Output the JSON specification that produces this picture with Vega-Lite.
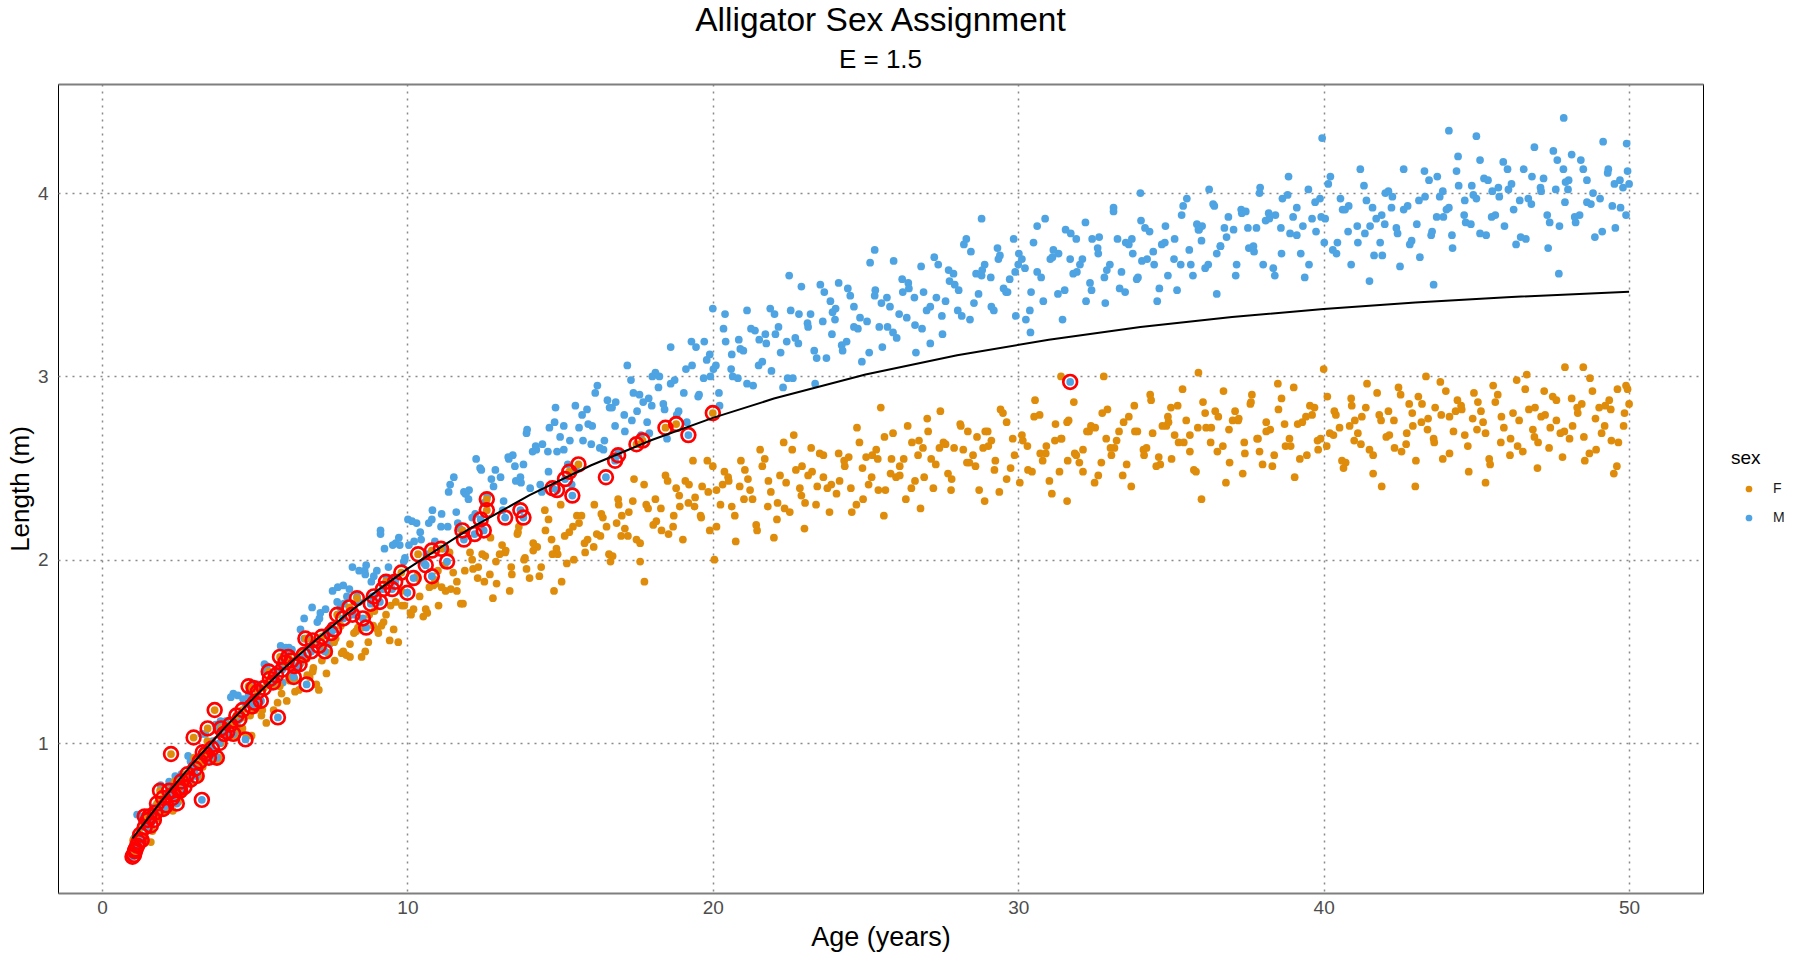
{
"$schema":"https://vega.github.io/schema/vega-lite/v6.json",
"width":1645,"height":809,
"autosize":{"type":"none"},
"padding":{"left":58,"top":84,"right":97,"bottom":67},
"background":"white",
"title":{"text":"Alligator Sex Assignment","subtitle":"E = 1.5","fontSize":33.5,"subtitleFontSize":26,"font":"Liberation Sans","subtitleFont":"Liberation Sans","fontWeight":"normal","subtitleFontWeight":"normal","color":"black","subtitleColor":"black","anchor":"middle","frame":"group","offset":10,"subtitlePadding":9},
"config":{
"view":{"stroke":"black","strokeWidth":1},
"axis":{"grid":true,"gridColor":"#8a8a8a","gridDash":[2,5],"gridWidth":1.5,"ticks":false,"domain":false,"labelFont":"Liberation Sans","labelFontSize":19,"labelColor":"#4d4d4d","labelPadding":10,"titleFont":"Liberation Sans","titleFontSize":27,"titleFontWeight":"normal","titleColor":"black"}
},
"resolve":{"axis":{"x":"independent","y":"independent"}},
"datasets":{
"pts":[
{"a":1.05,"l":0.48,"s":"M"},{"a":1.3,"l":0.58,"s":"M"},{"a":1.55,"l":0.53,"s":"M"},{"a":1.8,"l":0.66,"s":"M"},{"a":1.15,"l":0.61,"s":"M"},{"a":1.45,"l":0.55,"s":"M"},{"a":1.7,"l":0.65,"s":"M"},{"a":1.9,"l":0.63,"s":"M"},
{"a":2.1,"l":0.71,"s":"M"},{"a":2.4,"l":0.82,"s":"M"},{"a":2.65,"l":0.73,"s":"M"},{"a":2.9,"l":0.9,"s":"M"},{"a":2.2,"l":0.79,"s":"M"},{"a":2.35,"l":0.75,"s":"M"},{"a":2.6,"l":0.83,"s":"M"},{"a":2.85,"l":0.82,"s":"M"},
{"a":3.0,"l":0.88,"s":"M"},{"a":3.25,"l":1.05,"s":"M"},{"a":3.5,"l":0.95,"s":"M"},{"a":3.75,"l":1.08,"s":"M"},{"a":3.12,"l":0.82,"s":"M"},{"a":3.38,"l":1.05,"s":"M"},{"a":3.62,"l":1.01,"s":"M"},{"a":3.88,"l":1.12,"s":"M"},
{"a":4.05,"l":1.12,"s":"M"},{"a":4.3,"l":1.27,"s":"M"},{"a":4.55,"l":1.16,"s":"M"},{"a":4.8,"l":1.26,"s":"M"},{"a":4.15,"l":1.07,"s":"M"},{"a":4.45,"l":1.26,"s":"M"},{"a":4.7,"l":1.21,"s":"M"},{"a":4.9,"l":1.31,"s":"M"},
{"a":5.1,"l":1.32,"s":"M"},{"a":5.4,"l":1.42,"s":"M"},{"a":5.65,"l":1.36,"s":"M"},{"a":5.9,"l":1.44,"s":"M"},{"a":5.2,"l":1.23,"s":"M"},{"a":5.35,"l":1.4,"s":"M"},{"a":5.6,"l":1.35,"s":"M"},{"a":5.85,"l":1.53,"s":"M"},
{"a":6.0,"l":1.49,"s":"M"},{"a":6.25,"l":1.37,"s":"M"},{"a":6.5,"l":1.62,"s":"M"},{"a":6.75,"l":1.57,"s":"M"},{"a":6.12,"l":1.52,"s":"M"},{"a":6.38,"l":1.41,"s":"M"},{"a":6.62,"l":1.57,"s":"M"},{"a":6.88,"l":1.74,"s":"M"},
{"a":7.05,"l":1.66,"s":"M"},{"a":7.3,"l":1.59,"s":"M"},{"a":7.55,"l":1.83,"s":"M"},{"a":7.8,"l":1.74,"s":"M"},{"a":7.15,"l":1.71,"s":"M"},{"a":7.45,"l":1.54,"s":"M"},{"a":7.7,"l":1.77,"s":"M"},{"a":7.9,"l":1.86,"s":"M"},
{"a":8.1,"l":1.84,"s":"M"},{"a":8.4,"l":1.77,"s":"M"},{"a":8.65,"l":1.97,"s":"M"},{"a":8.9,"l":1.91,"s":"M"},{"a":8.2,"l":1.96,"s":"M"},{"a":8.35,"l":1.8,"s":"M"},{"a":8.6,"l":1.94,"s":"M"},{"a":8.85,"l":1.8,"s":"M"},
{"a":9.0,"l":1.94,"s":"M"},{"a":9.25,"l":2.06,"s":"M"},{"a":9.5,"l":1.9,"s":"M"},{"a":9.75,"l":2.08,"s":"M"},{"a":9.12,"l":2.16,"s":"M"},{"a":9.38,"l":1.96,"s":"M"},{"a":9.62,"l":2.09,"s":"M"},{"a":9.88,"l":1.99,"s":"M"},
{"a":10.05,"l":2.08,"s":"M"},{"a":10.3,"l":2.2,"s":"M"},{"a":10.55,"l":1.98,"s":"M"},{"a":10.8,"l":2.22,"s":"M"},{"a":10.15,"l":2.21,"s":"M"},{"a":10.45,"l":2.11,"s":"M"},{"a":10.7,"l":2.2,"s":"M"},{"a":10.9,"l":2.1,"s":"M"},
{"a":11.1,"l":2.18,"s":"M"},{"a":11.4,"l":2.41,"s":"M"},{"a":11.65,"l":2.2,"s":"M"},{"a":11.9,"l":2.36,"s":"M"},{"a":11.2,"l":2.06,"s":"M"},{"a":11.35,"l":2.37,"s":"M"},{"a":11.6,"l":2.26,"s":"M"},{"a":11.85,"l":2.37,"s":"M"},
{"a":12.0,"l":2.33,"s":"M"},{"a":12.25,"l":2.55,"s":"M"},{"a":12.5,"l":2.31,"s":"M"},{"a":12.75,"l":2.44,"s":"M"},{"a":12.12,"l":2.23,"s":"M"},{"a":12.38,"l":2.5,"s":"M"},{"a":12.62,"l":2.35,"s":"M"},{"a":12.88,"l":2.49,"s":"M"},
{"a":13.05,"l":2.45,"s":"M"},{"a":13.3,"l":2.56,"s":"M"},{"a":13.55,"l":2.43,"s":"M"},{"a":13.8,"l":2.52,"s":"M"},{"a":13.15,"l":2.32,"s":"M"},{"a":13.45,"l":2.57,"s":"M"},{"a":13.7,"l":2.45,"s":"M"},{"a":13.9,"l":2.69,"s":"M"},
{"a":14.1,"l":2.59,"s":"M"},{"a":14.4,"l":2.37,"s":"M"},{"a":14.65,"l":2.72,"s":"M"},{"a":14.9,"l":2.59,"s":"M"},{"a":14.2,"l":2.62,"s":"M"},{"a":14.35,"l":2.41,"s":"M"},{"a":14.6,"l":2.59,"s":"M"},{"a":14.85,"l":2.83,"s":"M"},
{"a":15.0,"l":2.67,"s":"M"},{"a":15.25,"l":2.52,"s":"M"},{"a":15.5,"l":2.84,"s":"M"},{"a":15.75,"l":2.65,"s":"M"},{"a":15.12,"l":2.73,"s":"M"},{"a":15.38,"l":2.41,"s":"M"},{"a":15.62,"l":2.72,"s":"M"},{"a":15.88,"l":2.82,"s":"M"},
{"a":16.05,"l":2.73,"s":"M"},{"a":16.3,"l":2.61,"s":"M"},{"a":16.55,"l":2.87,"s":"M"},{"a":16.8,"l":2.73,"s":"M"},{"a":16.15,"l":2.91,"s":"M"},{"a":16.45,"l":2.65,"s":"M"},{"a":16.7,"l":2.83,"s":"M"},{"a":16.9,"l":2.59,"s":"M"},
{"a":17.1,"l":2.79,"s":"M"},{"a":17.4,"l":2.91,"s":"M"},{"a":17.65,"l":2.68,"s":"M"},{"a":17.9,"l":2.88,"s":"M"},{"a":17.2,"l":3.06,"s":"M"},{"a":17.35,"l":2.76,"s":"M"},{"a":17.6,"l":2.9,"s":"M"},{"a":17.85,"l":2.75,"s":"M"},
{"a":18.0,"l":2.84,"s":"M"},{"a":18.25,"l":3.0,"s":"M"},{"a":18.5,"l":2.66,"s":"M"},{"a":18.75,"l":2.98,"s":"M"},{"a":18.12,"l":3.02,"s":"M"},{"a":18.38,"l":2.85,"s":"M"},{"a":18.62,"l":2.96,"s":"M"},{"a":18.88,"l":2.81,"s":"M"},
{"a":19.05,"l":2.91,"s":"M"},{"a":19.3,"l":3.19,"s":"M"},{"a":19.55,"l":2.9,"s":"M"},{"a":19.8,"l":3.09,"s":"M"},{"a":19.15,"l":2.75,"s":"M"},{"a":19.45,"l":3.16,"s":"M"},{"a":19.7,"l":2.99,"s":"M"},{"a":19.9,"l":3.12,"s":"M"},
{"a":20.1,"l":3.06,"s":"M"},{"a":20.4,"l":3.34,"s":"M"},{"a":20.65,"l":3.0,"s":"M"},{"a":20.9,"l":3.15,"s":"M"},{"a":20.2,"l":2.91,"s":"M"},{"a":20.35,"l":3.26,"s":"M"},{"a":20.6,"l":3.04,"s":"M"},{"a":20.85,"l":3.2,"s":"M"},
{"a":21.0,"l":3.14,"s":"M"},{"a":21.25,"l":3.26,"s":"M"},{"a":21.5,"l":3.06,"s":"M"},{"a":21.75,"l":3.18,"s":"M"},{"a":21.12,"l":2.96,"s":"M"},{"a":21.38,"l":3.25,"s":"M"},{"a":21.62,"l":3.08,"s":"M"},{"a":21.88,"l":3.37,"s":"M"},
{"a":22.05,"l":3.23,"s":"M"},{"a":22.3,"l":2.94,"s":"M"},{"a":22.55,"l":3.36,"s":"M"},{"a":22.8,"l":3.18,"s":"M"},{"a":22.15,"l":3.27,"s":"M"},{"a":22.45,"l":2.99,"s":"M"},{"a":22.7,"l":3.21,"s":"M"},{"a":22.9,"l":3.49,"s":"M"},
{"a":23.1,"l":3.29,"s":"M"},{"a":23.4,"l":3.1,"s":"M"},{"a":23.65,"l":3.46,"s":"M"},{"a":23.9,"l":3.23,"s":"M"},{"a":23.2,"l":3.34,"s":"M"},{"a":23.35,"l":2.96,"s":"M"},{"a":23.6,"l":3.3,"s":"M"},{"a":23.85,"l":3.41,"s":"M"},
{"a":24.0,"l":3.31,"s":"M"},{"a":24.25,"l":3.14,"s":"M"},{"a":24.5,"l":3.44,"s":"M"},{"a":24.75,"l":3.26,"s":"M"},{"a":24.12,"l":3.51,"s":"M"},{"a":24.38,"l":3.19,"s":"M"},{"a":24.62,"l":3.38,"s":"M"},{"a":24.88,"l":3.08,"s":"M"},
{"a":25.05,"l":3.3,"s":"M"},{"a":25.3,"l":3.44,"s":"M"},{"a":25.55,"l":3.16,"s":"M"},{"a":25.8,"l":3.38,"s":"M"},{"a":25.15,"l":3.62,"s":"M"},{"a":25.45,"l":3.27,"s":"M"},{"a":25.7,"l":3.43,"s":"M"},{"a":25.9,"l":3.24,"s":"M"},
{"a":26.1,"l":3.34,"s":"M"},{"a":26.4,"l":3.51,"s":"M"},{"a":26.65,"l":3.13,"s":"M"},{"a":26.9,"l":3.46,"s":"M"},{"a":26.2,"l":3.53,"s":"M"},{"a":26.35,"l":3.32,"s":"M"},{"a":26.6,"l":3.43,"s":"M"},{"a":26.85,"l":3.26,"s":"M"},
{"a":27.0,"l":3.36,"s":"M"},{"a":27.25,"l":3.65,"s":"M"},{"a":27.5,"l":3.33,"s":"M"},{"a":27.75,"l":3.52,"s":"M"},{"a":27.12,"l":3.18,"s":"M"},{"a":27.38,"l":3.61,"s":"M"},{"a":27.62,"l":3.41,"s":"M"},{"a":27.88,"l":3.56,"s":"M"},
{"a":28.05,"l":3.47,"s":"M"},{"a":28.3,"l":3.75,"s":"M"},{"a":28.55,"l":3.4,"s":"M"},{"a":28.8,"l":3.55,"s":"M"},{"a":28.15,"l":3.33,"s":"M"},{"a":28.45,"l":3.68,"s":"M"},{"a":28.7,"l":3.45,"s":"M"},{"a":28.9,"l":3.61,"s":"M"},
{"a":29.1,"l":3.54,"s":"M"},{"a":29.4,"l":3.66,"s":"M"},{"a":29.65,"l":3.46,"s":"M"},{"a":29.9,"l":3.57,"s":"M"},{"a":29.2,"l":3.36,"s":"M"},{"a":29.35,"l":3.64,"s":"M"},{"a":29.6,"l":3.46,"s":"M"},{"a":29.85,"l":3.75,"s":"M"},
{"a":30.0,"l":3.61,"s":"M"},{"a":30.25,"l":3.31,"s":"M"},{"a":30.5,"l":3.73,"s":"M"},{"a":30.75,"l":3.54,"s":"M"},{"a":30.12,"l":3.64,"s":"M"},{"a":30.38,"l":3.36,"s":"M"},{"a":30.62,"l":3.57,"s":"M"},{"a":30.88,"l":3.86,"s":"M"},
{"a":31.05,"l":3.64,"s":"M"},{"a":31.3,"l":3.45,"s":"M"},{"a":31.55,"l":3.8,"s":"M"},{"a":31.8,"l":3.56,"s":"M"},{"a":31.15,"l":3.69,"s":"M"},{"a":31.45,"l":3.31,"s":"M"},{"a":31.7,"l":3.64,"s":"M"},{"a":31.9,"l":3.75,"s":"M"},
{"a":32.1,"l":3.64,"s":"M"},{"a":32.4,"l":3.47,"s":"M"},{"a":32.65,"l":3.76,"s":"M"},{"a":32.9,"l":3.58,"s":"M"},{"a":32.2,"l":3.84,"s":"M"},{"a":32.35,"l":3.51,"s":"M"},{"a":32.6,"l":3.7,"s":"M"},{"a":32.85,"l":3.4,"s":"M"},
{"a":33.0,"l":3.61,"s":"M"},{"a":33.25,"l":3.75,"s":"M"},{"a":33.5,"l":3.46,"s":"M"},{"a":33.75,"l":3.67,"s":"M"},{"a":33.12,"l":3.92,"s":"M"},{"a":33.38,"l":3.57,"s":"M"},{"a":33.62,"l":3.72,"s":"M"},{"a":33.88,"l":3.53,"s":"M"},
{"a":34.05,"l":3.63,"s":"M"},{"a":34.3,"l":3.79,"s":"M"},{"a":34.55,"l":3.41,"s":"M"},{"a":34.8,"l":3.73,"s":"M"},{"a":34.15,"l":3.81,"s":"M"},{"a":34.45,"l":3.61,"s":"M"},{"a":34.7,"l":3.72,"s":"M"},{"a":34.9,"l":3.55,"s":"M"},
{"a":35.1,"l":3.64,"s":"M"},{"a":35.4,"l":3.93,"s":"M"},{"a":35.65,"l":3.61,"s":"M"},{"a":35.9,"l":3.8,"s":"M"},{"a":35.2,"l":3.47,"s":"M"},{"a":35.35,"l":3.88,"s":"M"},{"a":35.6,"l":3.69,"s":"M"},{"a":35.85,"l":3.83,"s":"M"},
{"a":36.0,"l":3.74,"s":"M"},{"a":36.25,"l":4.02,"s":"M"},{"a":36.5,"l":3.67,"s":"M"},{"a":36.75,"l":3.81,"s":"M"},{"a":36.12,"l":3.59,"s":"M"},{"a":36.38,"l":3.94,"s":"M"},{"a":36.62,"l":3.71,"s":"M"},{"a":36.88,"l":3.87,"s":"M"},
{"a":37.05,"l":3.8,"s":"M"},{"a":37.3,"l":3.91,"s":"M"},{"a":37.55,"l":3.7,"s":"M"},{"a":37.8,"l":3.81,"s":"M"},{"a":37.15,"l":3.61,"s":"M"},{"a":37.45,"l":3.9,"s":"M"},{"a":37.7,"l":3.71,"s":"M"},{"a":37.9,"l":4.0,"s":"M"},
{"a":38.1,"l":3.85,"s":"M"},{"a":38.4,"l":3.55,"s":"M"},{"a":38.65,"l":3.97,"s":"M"},{"a":38.9,"l":3.78,"s":"M"},{"a":38.2,"l":3.89,"s":"M"},{"a":38.35,"l":3.59,"s":"M"},{"a":38.6,"l":3.81,"s":"M"},{"a":38.85,"l":4.09,"s":"M"},
{"a":39.0,"l":3.87,"s":"M"},{"a":39.25,"l":3.67,"s":"M"},{"a":39.5,"l":4.02,"s":"M"},{"a":39.75,"l":3.79,"s":"M"},{"a":39.12,"l":3.92,"s":"M"},{"a":39.38,"l":3.54,"s":"M"},{"a":39.62,"l":3.86,"s":"M"},{"a":39.88,"l":3.97,"s":"M"},
{"a":40.05,"l":3.86,"s":"M"},{"a":40.3,"l":3.69,"s":"M"},{"a":40.55,"l":3.97,"s":"M"},{"a":40.8,"l":3.79,"s":"M"},{"a":40.15,"l":4.05,"s":"M"},{"a":40.45,"l":3.73,"s":"M"},{"a":40.7,"l":3.91,"s":"M"},{"a":40.9,"l":3.61,"s":"M"},
{"a":41.1,"l":3.82,"s":"M"},{"a":41.4,"l":3.96,"s":"M"},{"a":41.65,"l":3.66,"s":"M"},{"a":41.9,"l":3.88,"s":"M"},{"a":41.2,"l":4.13,"s":"M"},{"a":41.35,"l":3.78,"s":"M"},{"a":41.6,"l":3.92,"s":"M"},{"a":41.85,"l":3.73,"s":"M"},
{"a":42.0,"l":3.83,"s":"M"},{"a":42.25,"l":3.98,"s":"M"},{"a":42.5,"l":3.6,"s":"M"},{"a":42.75,"l":3.93,"s":"M"},{"a":42.12,"l":4.01,"s":"M"},{"a":42.38,"l":3.81,"s":"M"},{"a":42.62,"l":3.91,"s":"M"},{"a":42.88,"l":3.74,"s":"M"},
{"a":43.05,"l":3.83,"s":"M"},{"a":43.3,"l":4.12,"s":"M"},{"a":43.55,"l":3.79,"s":"M"},{"a":43.8,"l":3.98,"s":"M"},{"a":43.15,"l":3.65,"s":"M"},{"a":43.45,"l":4.07,"s":"M"},{"a":43.7,"l":3.87,"s":"M"},{"a":43.9,"l":4.01,"s":"M"},
{"a":44.1,"l":3.92,"s":"M"},{"a":44.4,"l":4.2,"s":"M"},{"a":44.65,"l":3.84,"s":"M"},{"a":44.9,"l":3.99,"s":"M"},{"a":44.2,"l":3.77,"s":"M"},{"a":44.35,"l":4.12,"s":"M"},{"a":44.6,"l":3.88,"s":"M"},{"a":44.85,"l":4.04,"s":"M"},
{"a":45.0,"l":3.97,"s":"M"},{"a":45.25,"l":4.08,"s":"M"},{"a":45.5,"l":3.87,"s":"M"},{"a":45.75,"l":3.98,"s":"M"},{"a":45.12,"l":3.78,"s":"M"},{"a":45.38,"l":4.07,"s":"M"},{"a":45.62,"l":3.88,"s":"M"},{"a":45.88,"l":4.17,"s":"M"},
{"a":46.05,"l":4.02,"s":"M"},{"a":46.3,"l":3.72,"s":"M"},{"a":46.55,"l":4.13,"s":"M"},{"a":46.8,"l":3.94,"s":"M"},{"a":46.15,"l":4.05,"s":"M"},{"a":46.45,"l":3.76,"s":"M"},{"a":46.7,"l":3.97,"s":"M"},{"a":46.9,"l":4.25,"s":"M"},
{"a":47.1,"l":4.03,"s":"M"},{"a":47.4,"l":3.84,"s":"M"},{"a":47.65,"l":4.18,"s":"M"},{"a":47.9,"l":3.95,"s":"M"},{"a":47.2,"l":4.08,"s":"M"},{"a":47.35,"l":3.7,"s":"M"},{"a":47.6,"l":4.02,"s":"M"},{"a":47.85,"l":4.13,"s":"M"},
{"a":48.0,"l":4.02,"s":"M"},{"a":48.25,"l":3.84,"s":"M"},{"a":48.5,"l":4.13,"s":"M"},{"a":48.75,"l":3.94,"s":"M"},{"a":48.12,"l":4.21,"s":"M"},{"a":48.38,"l":3.88,"s":"M"},{"a":48.62,"l":4.07,"s":"M"},{"a":48.88,"l":3.76,"s":"M"},
{"a":49.05,"l":3.97,"s":"M"},{"a":49.3,"l":4.11,"s":"M"},{"a":49.55,"l":3.81,"s":"M"},{"a":49.8,"l":4.03,"s":"M"},{"a":49.15,"l":4.28,"s":"M"},{"a":49.45,"l":3.93,"s":"M"},{"a":49.7,"l":4.07,"s":"M"},{"a":49.9,"l":3.88,"s":"M"},
{"a":47.86,"l":4.41,"s":"M"},{"a":39.95,"l":4.3,"s":"M"},{"a":44.1,"l":4.34,"s":"M"},{"a":45.0,"l":4.31,"s":"M"},{"a":47.7,"l":3.56,"s":"M"},{"a":30.4,"l":3.24,"s":"M"},{"a":25.3,"l":3.69,"s":"M"},{"a":49.95,"l":4.12,"s":"M"},{"a":50.0,"l":4.05,"s":"M"},{"a":36.5,"l":3.45,"s":"M"},{"a":41.5,"l":3.52,"s":"M"},{"a":43.6,"l":3.5,"s":"M"},{"a":28.8,"l":3.86,"s":"M"},{"a":34.0,"l":4.0,"s":"M"},{"a":22.5,"l":3.55,"s":"M"},{"a":20.0,"l":3.37,"s":"M"},
{"a":1.12,"l":0.43,"s":"M"},{"a":1.32,"l":0.6,"s":"M"},{"a":1.52,"l":0.61,"s":"M"},{"a":1.72,"l":0.6,"s":"M"},{"a":1.92,"l":0.77,"s":"M"},
{"a":2.02,"l":0.64,"s":"M"},{"a":2.22,"l":0.77,"s":"M"},{"a":2.42,"l":0.81,"s":"M"},{"a":2.62,"l":0.78,"s":"M"},{"a":2.82,"l":0.93,"s":"M"},
{"a":3.12,"l":0.91,"s":"M"},{"a":3.32,"l":0.96,"s":"M"},{"a":3.52,"l":0.91,"s":"M"},{"a":3.72,"l":1.1,"s":"M"},{"a":3.92,"l":1.1,"s":"M"},
{"a":4.02,"l":1.06,"s":"M"},{"a":4.22,"l":1.25,"s":"M"},{"a":4.42,"l":1.1,"s":"M"},{"a":4.62,"l":1.24,"s":"M"},{"a":4.82,"l":1.28,"s":"M"},
{"a":5.12,"l":1.24,"s":"M"},{"a":5.32,"l":1.43,"s":"M"},{"a":5.52,"l":1.35,"s":"M"},{"a":5.72,"l":1.4,"s":"M"},{"a":5.92,"l":1.33,"s":"M"},
{"a":6.02,"l":1.52,"s":"M"},{"a":6.22,"l":1.51,"s":"M"},{"a":6.42,"l":1.47,"s":"M"},{"a":6.62,"l":1.68,"s":"M"},{"a":6.82,"l":1.51,"s":"M"},
{"a":7.12,"l":1.68,"s":"M"},{"a":7.32,"l":1.73,"s":"M"},{"a":7.52,"l":1.64,"s":"M"},{"a":7.72,"l":1.85,"s":"M"},{"a":7.92,"l":1.76,"s":"M"},
{"a":8.02,"l":1.8,"s":"M"},{"a":8.22,"l":1.72,"s":"M"},{"a":8.42,"l":1.94,"s":"M"},{"a":8.62,"l":1.92,"s":"M"},{"a":8.82,"l":1.88,"s":"M"},
{"a":9.12,"l":2.14,"s":"M"},{"a":9.32,"l":1.9,"s":"M"},{"a":9.52,"l":2.08,"s":"M"},{"a":9.72,"l":2.12,"s":"M"},{"a":9.92,"l":2.01,"s":"M"},
{"a":10.02,"l":2.22,"s":"M"},{"a":10.22,"l":2.1,"s":"M"},{"a":10.42,"l":2.15,"s":"M"},{"a":10.62,"l":2.03,"s":"M"},{"a":10.82,"l":2.27,"s":"M"},
{"a":11.12,"l":2.25,"s":"M"},{"a":11.32,"l":2.18,"s":"M"},{"a":11.52,"l":2.45,"s":"M"},{"a":11.72,"l":2.17,"s":"M"},{"a":11.92,"l":2.36,"s":"M"},
{"a":12.02,"l":2.38,"s":"M"},{"a":12.22,"l":2.25,"s":"M"},{"a":12.42,"l":2.49,"s":"M"},{"a":12.62,"l":2.35,"s":"M"},{"a":12.82,"l":2.4,"s":"M"},
{"a":13.12,"l":2.27,"s":"M"},{"a":13.32,"l":2.55,"s":"M"},{"a":13.52,"l":2.51,"s":"M"},{"a":13.72,"l":2.42,"s":"M"},{"a":13.92,"l":2.71,"s":"M"},
{"a":14.02,"l":2.39,"s":"M"},{"a":14.22,"l":2.6,"s":"M"},{"a":14.42,"l":2.63,"s":"M"},{"a":14.62,"l":2.48,"s":"M"},{"a":14.82,"l":2.75,"s":"M"},
{"a":15.12,"l":2.6,"s":"M"},{"a":15.32,"l":2.65,"s":"M"},{"a":15.52,"l":2.49,"s":"M"},{"a":15.72,"l":2.79,"s":"M"},{"a":15.92,"l":2.74,"s":"M"},
{"a":16.02,"l":2.63,"s":"M"},{"a":16.22,"l":2.95,"s":"M"},{"a":16.42,"l":2.6,"s":"M"},{"a":16.62,"l":2.83,"s":"M"},{"a":16.82,"l":2.86,"s":"M"},
{"a":17.12,"l":2.7,"s":"M"},{"a":17.32,"l":2.98,"s":"M"},{"a":17.52,"l":2.81,"s":"M"},{"a":17.72,"l":2.86,"s":"M"},{"a":17.92,"l":2.69,"s":"M"},
{"a":18.02,"l":3.0,"s":"M"},{"a":18.22,"l":2.94,"s":"M"},{"a":18.42,"l":2.82,"s":"M"},{"a":18.62,"l":3.16,"s":"M"},{"a":18.82,"l":2.79,"s":"M"},
{"a":19.12,"l":3.04,"s":"M"},{"a":19.32,"l":3.06,"s":"M"},{"a":19.52,"l":2.89,"s":"M"},{"a":19.72,"l":3.19,"s":"M"},{"a":19.92,"l":3.0,"s":"M"},
{"a":20.02,"l":3.04,"s":"M"},{"a":20.22,"l":2.84,"s":"M"},{"a":20.42,"l":3.19,"s":"M"},{"a":20.62,"l":3.12,"s":"M"},{"a":20.82,"l":2.99,"s":"M"},
{"a":21.12,"l":3.36,"s":"M"},{"a":21.32,"l":2.95,"s":"M"},{"a":21.52,"l":3.2,"s":"M"},{"a":21.72,"l":3.23,"s":"M"},{"a":21.92,"l":3.03,"s":"M"},
{"a":22.02,"l":3.34,"s":"M"},{"a":22.22,"l":3.13,"s":"M"},{"a":22.42,"l":3.19,"s":"M"},{"a":22.62,"l":2.99,"s":"M"},{"a":22.82,"l":3.34,"s":"M"},
{"a":23.12,"l":3.27,"s":"M"},{"a":23.32,"l":3.14,"s":"M"},{"a":23.52,"l":3.5,"s":"M"},{"a":23.72,"l":3.1,"s":"M"},{"a":23.92,"l":3.35,"s":"M"},
{"a":24.02,"l":3.37,"s":"M"},{"a":24.22,"l":3.17,"s":"M"},{"a":24.42,"l":3.48,"s":"M"},{"a":24.62,"l":3.27,"s":"M"},{"a":24.82,"l":3.32,"s":"M"},
{"a":25.12,"l":3.13,"s":"M"},{"a":25.32,"l":3.47,"s":"M"},{"a":25.52,"l":3.4,"s":"M"},{"a":25.72,"l":3.27,"s":"M"},{"a":25.92,"l":3.63,"s":"M"},
{"a":26.02,"l":3.21,"s":"M"},{"a":26.22,"l":3.46,"s":"M"},{"a":26.42,"l":3.48,"s":"M"},{"a":26.62,"l":3.28,"s":"M"},{"a":26.82,"l":3.6,"s":"M"},
{"a":27.12,"l":3.38,"s":"M"},{"a":27.32,"l":3.43,"s":"M"},{"a":27.52,"l":3.23,"s":"M"},{"a":27.72,"l":3.58,"s":"M"},{"a":27.92,"l":3.5,"s":"M"},
{"a":28.02,"l":3.36,"s":"M"},{"a":28.22,"l":3.72,"s":"M"},{"a":28.42,"l":3.31,"s":"M"},{"a":28.62,"l":3.56,"s":"M"},{"a":28.82,"l":3.58,"s":"M"},
{"a":29.12,"l":3.38,"s":"M"},{"a":29.32,"l":3.7,"s":"M"},{"a":29.52,"l":3.48,"s":"M"},{"a":29.72,"l":3.53,"s":"M"},{"a":29.92,"l":3.33,"s":"M"},
{"a":30.02,"l":3.67,"s":"M"},{"a":30.22,"l":3.59,"s":"M"},{"a":30.42,"l":3.46,"s":"M"},{"a":30.62,"l":3.82,"s":"M"},{"a":30.82,"l":3.41,"s":"M"},
{"a":31.12,"l":3.65,"s":"M"},{"a":31.32,"l":3.67,"s":"M"},{"a":31.52,"l":3.47,"s":"M"},{"a":31.72,"l":3.78,"s":"M"},{"a":31.92,"l":3.57,"s":"M"},
{"a":32.02,"l":3.61,"s":"M"},{"a":32.22,"l":3.41,"s":"M"},{"a":32.42,"l":3.75,"s":"M"},{"a":32.62,"l":3.67,"s":"M"},{"a":32.82,"l":3.54,"s":"M"},
{"a":33.12,"l":3.9,"s":"M"},{"a":33.32,"l":3.48,"s":"M"},{"a":33.52,"l":3.73,"s":"M"},{"a":33.72,"l":3.75,"s":"M"},{"a":33.92,"l":3.54,"s":"M"},
{"a":34.02,"l":3.85,"s":"M"},{"a":34.22,"l":3.64,"s":"M"},{"a":34.42,"l":3.68,"s":"M"},{"a":34.62,"l":3.48,"s":"M"},{"a":34.82,"l":3.82,"s":"M"},
{"a":35.12,"l":3.75,"s":"M"},{"a":35.32,"l":3.61,"s":"M"},{"a":35.52,"l":3.97,"s":"M"},{"a":35.72,"l":3.55,"s":"M"},{"a":35.92,"l":3.8,"s":"M"},
{"a":36.02,"l":3.82,"s":"M"},{"a":36.22,"l":3.61,"s":"M"},{"a":36.42,"l":3.93,"s":"M"},{"a":36.62,"l":3.71,"s":"M"},{"a":36.82,"l":3.76,"s":"M"},
{"a":37.12,"l":3.55,"s":"M"},{"a":37.32,"l":3.89,"s":"M"},{"a":37.52,"l":3.81,"s":"M"},{"a":37.72,"l":3.68,"s":"M"},{"a":37.92,"l":4.03,"s":"M"},
{"a":38.02,"l":3.61,"s":"M"},{"a":38.22,"l":3.86,"s":"M"},{"a":38.42,"l":3.88,"s":"M"},{"a":38.62,"l":3.67,"s":"M"},{"a":38.82,"l":3.99,"s":"M"},
{"a":39.12,"l":3.77,"s":"M"},{"a":39.32,"l":3.82,"s":"M"},{"a":39.52,"l":3.61,"s":"M"},{"a":39.72,"l":3.95,"s":"M"},{"a":39.92,"l":3.87,"s":"M"},
{"a":40.02,"l":3.73,"s":"M"},{"a":40.22,"l":4.09,"s":"M"},{"a":40.42,"l":3.67,"s":"M"},{"a":40.62,"l":3.91,"s":"M"},{"a":40.82,"l":3.93,"s":"M"},
{"a":41.12,"l":3.73,"s":"M"},{"a":41.32,"l":4.04,"s":"M"},{"a":41.52,"l":3.82,"s":"M"},{"a":41.72,"l":3.86,"s":"M"},{"a":41.92,"l":3.66,"s":"M"},
{"a":42.02,"l":4.0,"s":"M"},{"a":42.22,"l":3.92,"s":"M"},{"a":42.42,"l":3.78,"s":"M"},{"a":42.62,"l":4.13,"s":"M"},{"a":42.82,"l":3.72,"s":"M"},
{"a":43.12,"l":3.96,"s":"M"},{"a":43.32,"l":3.98,"s":"M"},{"a":43.52,"l":3.77,"s":"M"},{"a":43.72,"l":4.09,"s":"M"},{"a":43.92,"l":3.87,"s":"M"},
{"a":44.02,"l":3.91,"s":"M"},{"a":44.22,"l":3.7,"s":"M"},{"a":44.42,"l":4.04,"s":"M"},{"a":44.62,"l":3.96,"s":"M"},{"a":44.82,"l":3.83,"s":"M"},
{"a":45.12,"l":4.18,"s":"M"},{"a":45.32,"l":3.77,"s":"M"},{"a":45.52,"l":4.01,"s":"M"},{"a":45.72,"l":4.03,"s":"M"},{"a":45.92,"l":3.82,"s":"M"},
{"a":46.02,"l":4.13,"s":"M"},{"a":46.22,"l":3.91,"s":"M"},{"a":46.42,"l":3.96,"s":"M"},{"a":46.62,"l":3.75,"s":"M"},{"a":46.82,"l":4.09,"s":"M"},
{"a":47.12,"l":4.01,"s":"M"},{"a":47.32,"l":3.88,"s":"M"},{"a":47.52,"l":4.23,"s":"M"},{"a":47.72,"l":3.82,"s":"M"},{"a":47.92,"l":4.06,"s":"M"},
{"a":48.02,"l":4.07,"s":"M"},{"a":48.22,"l":3.87,"s":"M"},{"a":48.42,"l":4.18,"s":"M"},{"a":48.62,"l":3.95,"s":"M"},{"a":48.82,"l":4.0,"s":"M"},
{"a":49.12,"l":3.79,"s":"M"},{"a":49.32,"l":4.13,"s":"M"},{"a":49.52,"l":4.05,"s":"M"},{"a":49.72,"l":3.92,"s":"M"},{"a":49.92,"l":4.27,"s":"M"},
{"a":1.1,"l":0.43,"s":"F"},{"a":1.4,"l":0.54,"s":"F"},{"a":1.65,"l":0.52,"s":"F"},{"a":1.9,"l":0.69,"s":"F"},{"a":1.2,"l":0.47,"s":"F"},{"a":1.35,"l":0.55,"s":"F"},{"a":1.6,"l":0.46,"s":"F"},{"a":1.85,"l":0.63,"s":"F"},
{"a":2.0,"l":0.62,"s":"F"},{"a":2.25,"l":0.7,"s":"F"},{"a":2.5,"l":0.68,"s":"F"},{"a":2.75,"l":0.83,"s":"F"},{"a":2.12,"l":0.64,"s":"F"},{"a":2.38,"l":0.79,"s":"F"},{"a":2.62,"l":0.72,"s":"F"},{"a":2.88,"l":0.84,"s":"F"},
{"a":3.05,"l":0.9,"s":"F"},{"a":3.3,"l":0.87,"s":"F"},{"a":3.55,"l":0.96,"s":"F"},{"a":3.8,"l":0.9,"s":"F"},{"a":3.15,"l":0.87,"s":"F"},{"a":3.45,"l":1.01,"s":"F"},{"a":3.7,"l":0.92,"s":"F"},{"a":3.9,"l":1.0,"s":"F"},
{"a":4.1,"l":1.09,"s":"F"},{"a":4.4,"l":1.05,"s":"F"},{"a":4.65,"l":1.14,"s":"F"},{"a":4.9,"l":1.04,"s":"F"},{"a":4.2,"l":1.05,"s":"F"},{"a":4.35,"l":1.11,"s":"F"},{"a":4.6,"l":1.08,"s":"F"},{"a":4.85,"l":1.15,"s":"F"},
{"a":5.0,"l":1.21,"s":"F"},{"a":5.25,"l":1.18,"s":"F"},{"a":5.5,"l":1.33,"s":"F"},{"a":5.75,"l":1.22,"s":"F"},{"a":5.12,"l":1.21,"s":"F"},{"a":5.38,"l":1.11,"s":"F"},{"a":5.62,"l":1.32,"s":"F"},{"a":5.88,"l":1.27,"s":"F"},
{"a":6.05,"l":1.23,"s":"F"},{"a":6.3,"l":1.35,"s":"F"},{"a":6.55,"l":1.49,"s":"F"},{"a":6.8,"l":1.36,"s":"F"},{"a":6.15,"l":1.34,"s":"F"},{"a":6.45,"l":1.29,"s":"F"},{"a":6.7,"l":1.46,"s":"F"},{"a":6.9,"l":1.39,"s":"F"},
{"a":7.1,"l":1.29,"s":"F"},{"a":7.4,"l":1.49,"s":"F"},{"a":7.65,"l":1.57,"s":"F"},{"a":7.9,"l":1.5,"s":"F"},{"a":7.2,"l":1.45,"s":"F"},{"a":7.35,"l":1.38,"s":"F"},{"a":7.6,"l":1.55,"s":"F"},{"a":7.85,"l":1.49,"s":"F"},
{"a":8.0,"l":1.48,"s":"F"},{"a":8.25,"l":1.6,"s":"F"},{"a":8.5,"l":1.47,"s":"F"},{"a":8.75,"l":1.7,"s":"F"},{"a":8.12,"l":1.54,"s":"F"},{"a":8.38,"l":1.63,"s":"F"},{"a":8.62,"l":1.5,"s":"F"},{"a":8.88,"l":1.64,"s":"F"},
{"a":9.05,"l":1.6,"s":"F"},{"a":9.3,"l":1.7,"s":"F"},{"a":9.55,"l":1.62,"s":"F"},{"a":9.8,"l":1.83,"s":"F"},{"a":9.15,"l":1.64,"s":"F"},{"a":9.45,"l":1.75,"s":"F"},{"a":9.7,"l":1.55,"s":"F"},{"a":9.9,"l":1.75,"s":"F"},
{"a":10.1,"l":1.71,"s":"F"},{"a":10.4,"l":1.8,"s":"F"},{"a":10.65,"l":1.71,"s":"F"},{"a":10.9,"l":1.89,"s":"F"},{"a":10.2,"l":1.73,"s":"F"},{"a":10.35,"l":1.9,"s":"F"},{"a":10.6,"l":1.73,"s":"F"},{"a":10.85,"l":1.86,"s":"F"},
{"a":11.0,"l":1.94,"s":"F"},{"a":11.25,"l":1.83,"s":"F"},{"a":11.5,"l":1.93,"s":"F"},{"a":11.75,"l":1.76,"s":"F"},{"a":11.12,"l":1.85,"s":"F"},{"a":11.38,"l":2.04,"s":"F"},{"a":11.62,"l":1.83,"s":"F"},{"a":11.88,"l":1.94,"s":"F"},
{"a":12.05,"l":2.04,"s":"F"},{"a":12.3,"l":1.9,"s":"F"},{"a":12.55,"l":2.02,"s":"F"},{"a":12.8,"l":1.79,"s":"F"},{"a":12.15,"l":1.95,"s":"F"},{"a":12.45,"l":2.03,"s":"F"},{"a":12.7,"l":1.92,"s":"F"},{"a":12.9,"l":1.99,"s":"F"},
{"a":13.1,"l":2.08,"s":"F"},{"a":13.4,"l":1.96,"s":"F"},{"a":13.65,"l":2.18,"s":"F"},{"a":13.9,"l":1.95,"s":"F"},{"a":13.2,"l":2.04,"s":"F"},{"a":13.35,"l":1.83,"s":"F"},{"a":13.6,"l":2.14,"s":"F"},{"a":13.85,"l":2.01,"s":"F"},
{"a":14.0,"l":1.9,"s":"F"},{"a":14.25,"l":2.07,"s":"F"},{"a":14.5,"l":2.27,"s":"F"},{"a":14.75,"l":2.03,"s":"F"},{"a":14.12,"l":2.09,"s":"F"},{"a":14.38,"l":1.96,"s":"F"},{"a":14.62,"l":2.22,"s":"F"},{"a":14.88,"l":2.06,"s":"F"},
{"a":15.05,"l":1.88,"s":"F"},{"a":15.3,"l":2.15,"s":"F"},{"a":15.55,"l":2.24,"s":"F"},{"a":15.8,"l":2.09,"s":"F"},{"a":15.15,"l":2.13,"s":"F"},{"a":15.45,"l":2.0,"s":"F"},{"a":15.7,"l":2.24,"s":"F"},{"a":15.9,"l":2.11,"s":"F"},
{"a":16.1,"l":2.07,"s":"F"},{"a":16.4,"l":2.23,"s":"F"},{"a":16.65,"l":1.99,"s":"F"},{"a":16.9,"l":2.33,"s":"F"},{"a":16.2,"l":2.14,"s":"F"},{"a":16.35,"l":2.25,"s":"F"},{"a":16.6,"l":2.03,"s":"F"},{"a":16.85,"l":2.2,"s":"F"},
{"a":17.0,"l":2.13,"s":"F"},{"a":17.25,"l":2.26,"s":"F"},{"a":17.5,"l":2.11,"s":"F"},{"a":17.75,"l":2.41,"s":"F"},{"a":17.12,"l":2.17,"s":"F"},{"a":17.38,"l":2.32,"s":"F"},{"a":17.62,"l":1.99,"s":"F"},{"a":17.88,"l":2.28,"s":"F"},
{"a":18.05,"l":2.19,"s":"F"},{"a":18.3,"l":2.28,"s":"F"},{"a":18.55,"l":2.14,"s":"F"},{"a":18.8,"l":2.39,"s":"F"},{"a":18.15,"l":2.21,"s":"F"},{"a":18.45,"l":2.46,"s":"F"},{"a":18.7,"l":2.18,"s":"F"},{"a":18.9,"l":2.35,"s":"F"},
{"a":19.1,"l":2.43,"s":"F"},{"a":19.4,"l":2.29,"s":"F"},{"a":19.65,"l":2.4,"s":"F"},{"a":19.9,"l":2.16,"s":"F"},{"a":19.2,"l":2.31,"s":"F"},{"a":19.35,"l":2.54,"s":"F"},{"a":19.6,"l":2.24,"s":"F"},{"a":19.85,"l":2.37,"s":"F"},
{"a":20.0,"l":2.51,"s":"F"},{"a":20.25,"l":2.3,"s":"F"},{"a":20.5,"l":2.45,"s":"F"},{"a":20.75,"l":2.1,"s":"F"},{"a":20.12,"l":2.38,"s":"F"},{"a":20.38,"l":2.48,"s":"F"},{"a":20.62,"l":2.29,"s":"F"},{"a":20.88,"l":2.4,"s":"F"},
{"a":21.05,"l":2.49,"s":"F"},{"a":21.3,"l":2.33,"s":"F"},{"a":21.55,"l":2.6,"s":"F"},{"a":21.8,"l":2.29,"s":"F"},{"a":21.15,"l":2.44,"s":"F"},{"a":21.45,"l":2.16,"s":"F"},{"a":21.7,"l":2.55,"s":"F"},{"a":21.9,"l":2.37,"s":"F"},
{"a":22.1,"l":2.22,"s":"F"},{"a":22.4,"l":2.42,"s":"F"},{"a":22.65,"l":2.68,"s":"F"},{"a":22.9,"l":2.35,"s":"F"},{"a":22.2,"l":2.46,"s":"F"},{"a":22.35,"l":2.28,"s":"F"},{"a":22.6,"l":2.6,"s":"F"},{"a":22.85,"l":2.39,"s":"F"},
{"a":23.0,"l":2.17,"s":"F"},{"a":23.25,"l":2.48,"s":"F"},{"a":23.5,"l":2.58,"s":"F"},{"a":23.75,"l":2.39,"s":"F"},{"a":23.12,"l":2.46,"s":"F"},{"a":23.38,"l":2.3,"s":"F"},{"a":23.62,"l":2.57,"s":"F"},{"a":23.88,"l":2.41,"s":"F"},
{"a":24.05,"l":2.36,"s":"F"},{"a":24.3,"l":2.54,"s":"F"},{"a":24.55,"l":2.26,"s":"F"},{"a":24.8,"l":2.64,"s":"F"},{"a":24.15,"l":2.43,"s":"F"},{"a":24.45,"l":2.56,"s":"F"},{"a":24.7,"l":2.3,"s":"F"},{"a":24.9,"l":2.5,"s":"F"},
{"a":25.1,"l":2.41,"s":"F"},{"a":25.4,"l":2.55,"s":"F"},{"a":25.65,"l":2.38,"s":"F"},{"a":25.9,"l":2.69,"s":"F"},{"a":25.2,"l":2.45,"s":"F"},{"a":25.35,"l":2.6,"s":"F"},{"a":25.6,"l":2.24,"s":"F"},{"a":25.85,"l":2.55,"s":"F"},
{"a":26.0,"l":2.45,"s":"F"},{"a":26.25,"l":2.55,"s":"F"},{"a":26.5,"l":2.39,"s":"F"},{"a":26.75,"l":2.65,"s":"F"},{"a":26.12,"l":2.46,"s":"F"},{"a":26.38,"l":2.73,"s":"F"},{"a":26.62,"l":2.43,"s":"F"},{"a":26.88,"l":2.61,"s":"F"},
{"a":27.05,"l":2.7,"s":"F"},{"a":27.3,"l":2.52,"s":"F"},{"a":27.55,"l":2.64,"s":"F"},{"a":27.8,"l":2.38,"s":"F"},{"a":27.15,"l":2.55,"s":"F"},{"a":27.45,"l":2.81,"s":"F"},{"a":27.7,"l":2.47,"s":"F"},{"a":27.9,"l":2.61,"s":"F"},
{"a":28.1,"l":2.74,"s":"F"},{"a":28.4,"l":2.53,"s":"F"},{"a":28.65,"l":2.67,"s":"F"},{"a":28.9,"l":2.32,"s":"F"},{"a":28.2,"l":2.6,"s":"F"},{"a":28.35,"l":2.7,"s":"F"},{"a":28.6,"l":2.51,"s":"F"},{"a":28.85,"l":2.61,"s":"F"},
{"a":29.0,"l":2.7,"s":"F"},{"a":29.25,"l":2.54,"s":"F"},{"a":29.5,"l":2.8,"s":"F"},{"a":29.75,"l":2.5,"s":"F"},{"a":29.12,"l":2.65,"s":"F"},{"a":29.38,"l":2.37,"s":"F"},{"a":29.62,"l":2.75,"s":"F"},{"a":29.88,"l":2.57,"s":"F"},
{"a":30.05,"l":2.42,"s":"F"},{"a":30.3,"l":2.62,"s":"F"},{"a":30.55,"l":2.87,"s":"F"},{"a":30.8,"l":2.54,"s":"F"},{"a":30.15,"l":2.65,"s":"F"},{"a":30.45,"l":2.48,"s":"F"},{"a":30.7,"l":2.79,"s":"F"},{"a":30.9,"l":2.58,"s":"F"},
{"a":31.1,"l":2.36,"s":"F"},{"a":31.4,"l":2.66,"s":"F"},{"a":31.65,"l":2.76,"s":"F"},{"a":31.9,"l":2.57,"s":"F"},{"a":31.2,"l":2.65,"s":"F"},{"a":31.35,"l":2.48,"s":"F"},{"a":31.6,"l":2.75,"s":"F"},{"a":31.85,"l":2.58,"s":"F"},
{"a":32.0,"l":2.53,"s":"F"},{"a":32.25,"l":2.7,"s":"F"},{"a":32.5,"l":2.42,"s":"F"},{"a":32.75,"l":2.8,"s":"F"},{"a":32.12,"l":2.6,"s":"F"},{"a":32.38,"l":2.73,"s":"F"},{"a":32.62,"l":2.46,"s":"F"},{"a":32.88,"l":2.66,"s":"F"},
{"a":33.05,"l":2.57,"s":"F"},{"a":33.3,"l":2.7,"s":"F"},{"a":33.55,"l":2.52,"s":"F"},{"a":33.8,"l":2.84,"s":"F"},{"a":33.15,"l":2.61,"s":"F"},{"a":33.45,"l":2.75,"s":"F"},{"a":33.7,"l":2.4,"s":"F"},{"a":33.9,"l":2.7,"s":"F"},
{"a":34.1,"l":2.6,"s":"F"},{"a":34.4,"l":2.69,"s":"F"},{"a":34.65,"l":2.52,"s":"F"},{"a":34.9,"l":2.78,"s":"F"},{"a":34.2,"l":2.61,"s":"F"},{"a":34.35,"l":2.87,"s":"F"},{"a":34.6,"l":2.56,"s":"F"},{"a":34.85,"l":2.73,"s":"F"},
{"a":35.0,"l":2.83,"s":"F"},{"a":35.25,"l":2.64,"s":"F"},{"a":35.5,"l":2.76,"s":"F"},{"a":35.75,"l":2.49,"s":"F"},{"a":35.12,"l":2.68,"s":"F"},{"a":35.38,"l":2.93,"s":"F"},{"a":35.62,"l":2.59,"s":"F"},{"a":35.88,"l":2.72,"s":"F"},
{"a":36.05,"l":2.86,"s":"F"},{"a":36.3,"l":2.64,"s":"F"},{"a":36.55,"l":2.78,"s":"F"},{"a":36.8,"l":2.42,"s":"F"},{"a":36.15,"l":2.72,"s":"F"},{"a":36.45,"l":2.81,"s":"F"},{"a":36.7,"l":2.62,"s":"F"},{"a":36.9,"l":2.71,"s":"F"},
{"a":37.1,"l":2.81,"s":"F"},{"a":37.4,"l":2.64,"s":"F"},{"a":37.65,"l":2.9,"s":"F"},{"a":37.9,"l":2.59,"s":"F"},{"a":37.2,"l":2.76,"s":"F"},{"a":37.35,"l":2.47,"s":"F"},{"a":37.6,"l":2.85,"s":"F"},{"a":37.85,"l":2.66,"s":"F"},
{"a":38.0,"l":2.52,"s":"F"},{"a":38.25,"l":2.71,"s":"F"},{"a":38.5,"l":2.96,"s":"F"},{"a":38.75,"l":2.62,"s":"F"},{"a":38.12,"l":2.75,"s":"F"},{"a":38.38,"l":2.57,"s":"F"},{"a":38.62,"l":2.88,"s":"F"},{"a":38.88,"l":2.66,"s":"F"},
{"a":39.05,"l":2.45,"s":"F"},{"a":39.3,"l":2.75,"s":"F"},{"a":39.55,"l":2.84,"s":"F"},{"a":39.8,"l":2.65,"s":"F"},{"a":39.15,"l":2.74,"s":"F"},{"a":39.45,"l":2.57,"s":"F"},{"a":39.7,"l":2.83,"s":"F"},{"a":39.9,"l":2.66,"s":"F"},
{"a":40.1,"l":2.62,"s":"F"},{"a":40.4,"l":2.79,"s":"F"},{"a":40.65,"l":2.5,"s":"F"},{"a":40.9,"l":2.88,"s":"F"},{"a":40.2,"l":2.69,"s":"F"},{"a":40.35,"l":2.81,"s":"F"},{"a":40.6,"l":2.54,"s":"F"},{"a":40.85,"l":2.73,"s":"F"},
{"a":41.0,"l":2.65,"s":"F"},{"a":41.25,"l":2.78,"s":"F"},{"a":41.5,"l":2.6,"s":"F"},{"a":41.75,"l":2.91,"s":"F"},{"a":41.12,"l":2.69,"s":"F"},{"a":41.38,"l":2.83,"s":"F"},{"a":41.62,"l":2.47,"s":"F"},{"a":41.88,"l":2.76,"s":"F"},
{"a":42.05,"l":2.67,"s":"F"},{"a":42.3,"l":2.76,"s":"F"},{"a":42.55,"l":2.59,"s":"F"},{"a":42.8,"l":2.85,"s":"F"},{"a":42.15,"l":2.68,"s":"F"},{"a":42.45,"l":2.94,"s":"F"},{"a":42.7,"l":2.63,"s":"F"},{"a":42.9,"l":2.8,"s":"F"},
{"a":43.1,"l":2.89,"s":"F"},{"a":43.4,"l":2.71,"s":"F"},{"a":43.65,"l":2.83,"s":"F"},{"a":43.9,"l":2.55,"s":"F"},{"a":43.2,"l":2.75,"s":"F"},{"a":43.35,"l":3.0,"s":"F"},{"a":43.6,"l":2.66,"s":"F"},{"a":43.85,"l":2.79,"s":"F"},
{"a":44.0,"l":2.92,"s":"F"},{"a":44.25,"l":2.7,"s":"F"},{"a":44.5,"l":2.84,"s":"F"},{"a":44.75,"l":2.48,"s":"F"},{"a":44.12,"l":2.78,"s":"F"},{"a":44.38,"l":2.87,"s":"F"},{"a":44.62,"l":2.68,"s":"F"},{"a":44.88,"l":2.77,"s":"F"},
{"a":45.05,"l":2.86,"s":"F"},{"a":45.3,"l":2.69,"s":"F"},{"a":45.55,"l":2.95,"s":"F"},{"a":45.8,"l":2.64,"s":"F"},{"a":45.15,"l":2.81,"s":"F"},{"a":45.45,"l":2.52,"s":"F"},{"a":45.7,"l":2.9,"s":"F"},{"a":45.9,"l":2.72,"s":"F"},
{"a":46.1,"l":2.57,"s":"F"},{"a":46.4,"l":2.76,"s":"F"},{"a":46.65,"l":3.01,"s":"F"},{"a":46.9,"l":2.67,"s":"F"},{"a":46.2,"l":2.8,"s":"F"},{"a":46.35,"l":2.62,"s":"F"},{"a":46.6,"l":2.93,"s":"F"},{"a":46.85,"l":2.71,"s":"F"},
{"a":47.0,"l":2.5,"s":"F"},{"a":47.25,"l":2.79,"s":"F"},{"a":47.5,"l":2.89,"s":"F"},{"a":47.75,"l":2.69,"s":"F"},{"a":47.12,"l":2.78,"s":"F"},{"a":47.38,"l":2.61,"s":"F"},{"a":47.62,"l":2.87,"s":"F"},{"a":47.88,"l":2.7,"s":"F"},
{"a":48.05,"l":2.66,"s":"F"},{"a":48.3,"l":2.83,"s":"F"},{"a":48.55,"l":2.54,"s":"F"},{"a":48.8,"l":2.92,"s":"F"},{"a":48.15,"l":2.73,"s":"F"},{"a":48.45,"l":2.85,"s":"F"},{"a":48.7,"l":2.58,"s":"F"},{"a":48.9,"l":2.77,"s":"F"},
{"a":49.1,"l":2.69,"s":"F"},{"a":49.4,"l":2.82,"s":"F"},{"a":49.65,"l":2.64,"s":"F"},{"a":49.9,"l":2.95,"s":"F"},{"a":49.2,"l":2.73,"s":"F"},{"a":49.35,"l":2.87,"s":"F"},{"a":49.6,"l":2.51,"s":"F"},{"a":49.85,"l":2.8,"s":"F"},
{"a":47.9,"l":3.05,"s":"F"},{"a":48.5,"l":3.05,"s":"F"},{"a":40.0,"l":3.04,"s":"F"},{"a":35.9,"l":3.02,"s":"F"},{"a":32.8,"l":3.0,"s":"F"},{"a":20.05,"l":2.0,"s":"F"},{"a":17.76,"l":1.88,"s":"F"},{"a":14.8,"l":1.83,"s":"F"},{"a":31.6,"l":2.32,"s":"F"},{"a":26.8,"l":2.28,"s":"F"},{"a":41.9,"l":2.4,"s":"F"},{"a":43.0,"l":2.4,"s":"F"},{"a":45.3,"l":2.42,"s":"F"},{"a":49.5,"l":2.47,"s":"F"},{"a":25.5,"l":2.83,"s":"F"},{"a":31.4,"l":3.0,"s":"F"},{"a":49.95,"l":2.93,"s":"F"},{"a":50.0,"l":2.85,"s":"F"},{"a":36.0,"l":2.33,"s":"F"},{"a":22.0,"l":2.12,"s":"F"},
{"a":1.02,"l":0.47,"s":"F"},{"a":1.22,"l":0.51,"s":"F"},{"a":1.42,"l":0.48,"s":"F"},{"a":1.62,"l":0.63,"s":"F"},{"a":1.82,"l":0.59,"s":"F"},
{"a":2.12,"l":0.66,"s":"F"},{"a":2.32,"l":0.63,"s":"F"},{"a":2.52,"l":0.78,"s":"F"},{"a":2.72,"l":0.79,"s":"F"},{"a":2.92,"l":0.78,"s":"F"},
{"a":3.02,"l":0.92,"s":"F"},{"a":3.22,"l":0.81,"s":"F"},{"a":3.42,"l":0.93,"s":"F"},{"a":3.62,"l":0.97,"s":"F"},{"a":3.82,"l":0.92,"s":"F"},
{"a":4.12,"l":1.08,"s":"F"},{"a":4.32,"l":1.04,"s":"F"},{"a":4.52,"l":1.08,"s":"F"},{"a":4.72,"l":1.04,"s":"F"},{"a":4.92,"l":1.19,"s":"F"},
{"a":5.02,"l":1.18,"s":"F"},{"a":5.22,"l":1.15,"s":"F"},{"a":5.42,"l":1.33,"s":"F"},{"a":5.62,"l":1.18,"s":"F"},{"a":5.82,"l":1.31,"s":"F"},
{"a":6.12,"l":1.35,"s":"F"},{"a":6.32,"l":1.28,"s":"F"},{"a":6.52,"l":1.44,"s":"F"},{"a":6.72,"l":1.37,"s":"F"},{"a":6.92,"l":1.41,"s":"F"},
{"a":7.02,"l":1.32,"s":"F"},{"a":7.22,"l":1.51,"s":"F"},{"a":7.42,"l":1.49,"s":"F"},{"a":7.62,"l":1.45,"s":"F"},{"a":7.82,"l":1.64,"s":"F"},
{"a":8.12,"l":1.47,"s":"F"},{"a":8.32,"l":1.61,"s":"F"},{"a":8.52,"l":1.63,"s":"F"},{"a":8.72,"l":1.55,"s":"F"},{"a":8.92,"l":1.72,"s":"F"},
{"a":9.02,"l":1.62,"s":"F"},{"a":9.22,"l":1.66,"s":"F"},{"a":9.42,"l":1.56,"s":"F"},{"a":9.62,"l":1.77,"s":"F"},{"a":9.82,"l":1.75,"s":"F"},
{"a":10.12,"l":1.7,"s":"F"},{"a":10.32,"l":1.91,"s":"F"},{"a":10.52,"l":1.69,"s":"F"},{"a":10.72,"l":1.85,"s":"F"},{"a":10.92,"l":1.87,"s":"F"},
{"a":11.02,"l":1.75,"s":"F"},{"a":11.22,"l":1.97,"s":"F"},{"a":11.42,"l":1.84,"s":"F"},{"a":11.62,"l":1.88,"s":"F"},{"a":11.82,"l":1.76,"s":"F"},
{"a":12.12,"l":2.0,"s":"F"},{"a":12.32,"l":1.96,"s":"F"},{"a":12.52,"l":1.88,"s":"F"},{"a":12.72,"l":2.12,"s":"F"},{"a":12.92,"l":1.87,"s":"F"},
{"a":13.02,"l":2.03,"s":"F"},{"a":13.22,"l":2.05,"s":"F"},{"a":13.42,"l":1.92,"s":"F"},{"a":13.62,"l":2.15,"s":"F"},{"a":13.82,"l":2.0,"s":"F"},
{"a":14.12,"l":2.05,"s":"F"},{"a":14.32,"l":1.91,"s":"F"},{"a":14.52,"l":2.16,"s":"F"},{"a":14.72,"l":2.11,"s":"F"},{"a":14.92,"l":2.03,"s":"F"},
{"a":15.02,"l":2.3,"s":"F"},{"a":15.22,"l":1.98,"s":"F"},{"a":15.42,"l":2.18,"s":"F"},{"a":15.62,"l":2.2,"s":"F"},{"a":15.82,"l":2.04,"s":"F"},
{"a":16.12,"l":2.3,"s":"F"},{"a":16.32,"l":2.13,"s":"F"},{"a":16.52,"l":2.18,"s":"F"},{"a":16.72,"l":2.02,"s":"F"},{"a":16.92,"l":2.3,"s":"F"},
{"a":17.02,"l":2.24,"s":"F"},{"a":17.22,"l":2.13,"s":"F"},{"a":17.42,"l":2.44,"s":"F"},{"a":17.62,"l":2.09,"s":"F"},{"a":17.82,"l":2.3,"s":"F"},
{"a":18.12,"l":2.33,"s":"F"},{"a":18.32,"l":2.16,"s":"F"},{"a":18.52,"l":2.43,"s":"F"},{"a":18.72,"l":2.24,"s":"F"},{"a":18.92,"l":2.29,"s":"F"},
{"a":19.02,"l":2.11,"s":"F"},{"a":19.22,"l":2.41,"s":"F"},{"a":19.42,"l":2.34,"s":"F"},{"a":19.62,"l":2.23,"s":"F"},{"a":19.82,"l":2.54,"s":"F"},
{"a":20.12,"l":2.18,"s":"F"},{"a":20.32,"l":2.41,"s":"F"},{"a":20.52,"l":2.43,"s":"F"},{"a":20.72,"l":2.24,"s":"F"},{"a":20.92,"l":2.54,"s":"F"},
{"a":21.02,"l":2.33,"s":"F"},{"a":21.22,"l":2.38,"s":"F"},{"a":21.42,"l":2.19,"s":"F"},{"a":21.62,"l":2.51,"s":"F"},{"a":21.82,"l":2.43,"s":"F"},
{"a":22.12,"l":2.31,"s":"F"},{"a":22.32,"l":2.64,"s":"F"},{"a":22.52,"l":2.26,"s":"F"},{"a":22.72,"l":2.49,"s":"F"},{"a":22.92,"l":2.51,"s":"F"},
{"a":23.02,"l":2.31,"s":"F"},{"a":23.22,"l":2.61,"s":"F"},{"a":23.42,"l":2.4,"s":"F"},{"a":23.62,"l":2.45,"s":"F"},{"a":23.82,"l":2.26,"s":"F"},
{"a":24.12,"l":2.58,"s":"F"},{"a":24.32,"l":2.51,"s":"F"},{"a":24.52,"l":2.39,"s":"F"},{"a":24.72,"l":2.72,"s":"F"},{"a":24.92,"l":2.33,"s":"F"},
{"a":25.02,"l":2.56,"s":"F"},{"a":25.22,"l":2.57,"s":"F"},{"a":25.42,"l":2.38,"s":"F"},{"a":25.62,"l":2.67,"s":"F"},{"a":25.82,"l":2.47,"s":"F"},
{"a":26.12,"l":2.51,"s":"F"},{"a":26.32,"l":2.33,"s":"F"},{"a":26.52,"l":2.64,"s":"F"},{"a":26.72,"l":2.57,"s":"F"},{"a":26.92,"l":2.45,"s":"F"},
{"a":27.02,"l":2.77,"s":"F"},{"a":27.22,"l":2.39,"s":"F"},{"a":27.42,"l":2.61,"s":"F"},{"a":27.62,"l":2.63,"s":"F"},{"a":27.82,"l":2.44,"s":"F"},
{"a":28.12,"l":2.73,"s":"F"},{"a":28.32,"l":2.53,"s":"F"},{"a":28.52,"l":2.57,"s":"F"},{"a":28.72,"l":2.38,"s":"F"},{"a":28.92,"l":2.7,"s":"F"},
{"a":29.02,"l":2.62,"s":"F"},{"a":29.22,"l":2.49,"s":"F"},{"a":29.42,"l":2.82,"s":"F"},{"a":29.62,"l":2.44,"s":"F"},{"a":29.82,"l":2.66,"s":"F"},
{"a":30.12,"l":2.68,"s":"F"},{"a":30.32,"l":2.49,"s":"F"},{"a":30.52,"l":2.78,"s":"F"},{"a":30.72,"l":2.58,"s":"F"},{"a":30.92,"l":2.62,"s":"F"},
{"a":31.02,"l":2.43,"s":"F"},{"a":31.22,"l":2.74,"s":"F"},{"a":31.42,"l":2.66,"s":"F"},{"a":31.62,"l":2.54,"s":"F"},{"a":31.82,"l":2.86,"s":"F"},
{"a":32.12,"l":2.48,"s":"F"},{"a":32.32,"l":2.7,"s":"F"},{"a":32.52,"l":2.72,"s":"F"},{"a":32.72,"l":2.53,"s":"F"},{"a":32.92,"l":2.82,"s":"F"},
{"a":33.02,"l":2.61,"s":"F"},{"a":33.22,"l":2.65,"s":"F"},{"a":33.42,"l":2.46,"s":"F"},{"a":33.62,"l":2.78,"s":"F"},{"a":33.82,"l":2.7,"s":"F"},
{"a":34.12,"l":2.57,"s":"F"},{"a":34.32,"l":2.9,"s":"F"},{"a":34.52,"l":2.51,"s":"F"},{"a":34.72,"l":2.73,"s":"F"},{"a":34.92,"l":2.75,"s":"F"},
{"a":35.02,"l":2.55,"s":"F"},{"a":35.22,"l":2.84,"s":"F"},{"a":35.42,"l":2.64,"s":"F"},{"a":35.62,"l":2.68,"s":"F"},{"a":35.82,"l":2.48,"s":"F"},
{"a":36.12,"l":2.8,"s":"F"},{"a":36.32,"l":2.72,"s":"F"},{"a":36.52,"l":2.59,"s":"F"},{"a":36.72,"l":2.92,"s":"F"},{"a":36.92,"l":2.53,"s":"F"},
{"a":37.02,"l":2.76,"s":"F"},{"a":37.22,"l":2.77,"s":"F"},{"a":37.42,"l":2.58,"s":"F"},{"a":37.62,"l":2.86,"s":"F"},{"a":37.82,"l":2.66,"s":"F"},
{"a":38.12,"l":2.7,"s":"F"},{"a":38.32,"l":2.51,"s":"F"},{"a":38.52,"l":2.82,"s":"F"},{"a":38.72,"l":2.74,"s":"F"},{"a":38.92,"l":2.62,"s":"F"},
{"a":39.02,"l":2.94,"s":"F"},{"a":39.22,"l":2.55,"s":"F"},{"a":39.42,"l":2.78,"s":"F"},{"a":39.62,"l":2.79,"s":"F"},{"a":39.82,"l":2.6,"s":"F"},
{"a":40.12,"l":2.89,"s":"F"},{"a":40.32,"l":2.68,"s":"F"},{"a":40.52,"l":2.72,"s":"F"},{"a":40.72,"l":2.53,"s":"F"},{"a":40.92,"l":2.84,"s":"F"},
{"a":41.02,"l":2.76,"s":"F"},{"a":41.22,"l":2.63,"s":"F"},{"a":41.42,"l":2.96,"s":"F"},{"a":41.62,"l":2.57,"s":"F"},{"a":41.82,"l":2.79,"s":"F"},
{"a":42.12,"l":2.81,"s":"F"},{"a":42.32,"l":2.61,"s":"F"},{"a":42.52,"l":2.9,"s":"F"},{"a":42.72,"l":2.69,"s":"F"},{"a":42.92,"l":2.73,"s":"F"},
{"a":43.02,"l":2.54,"s":"F"},{"a":43.22,"l":2.85,"s":"F"},{"a":43.42,"l":2.77,"s":"F"},{"a":43.62,"l":2.64,"s":"F"},{"a":43.82,"l":2.97,"s":"F"},
{"a":44.12,"l":2.58,"s":"F"},{"a":44.32,"l":2.81,"s":"F"},{"a":44.52,"l":2.82,"s":"F"},{"a":44.72,"l":2.62,"s":"F"},{"a":44.92,"l":2.91,"s":"F"},
{"a":45.02,"l":2.71,"s":"F"},{"a":45.22,"l":2.75,"s":"F"},{"a":45.42,"l":2.55,"s":"F"},{"a":45.62,"l":2.86,"s":"F"},{"a":45.82,"l":2.78,"s":"F"},
{"a":46.12,"l":2.66,"s":"F"},{"a":46.32,"l":2.98,"s":"F"},{"a":46.52,"l":2.59,"s":"F"},{"a":46.72,"l":2.82,"s":"F"},{"a":46.92,"l":2.83,"s":"F"},
{"a":47.02,"l":2.64,"s":"F"},{"a":47.22,"l":2.92,"s":"F"},{"a":47.42,"l":2.72,"s":"F"},{"a":47.62,"l":2.76,"s":"F"},{"a":47.82,"l":2.56,"s":"F"},
{"a":48.12,"l":2.88,"s":"F"},{"a":48.32,"l":2.8,"s":"F"},{"a":48.52,"l":2.67,"s":"F"},{"a":48.72,"l":2.99,"s":"F"},{"a":48.92,"l":2.6,"s":"F"},
{"a":49.02,"l":2.83,"s":"F"},{"a":49.22,"l":2.84,"s":"F"},{"a":49.42,"l":2.65,"s":"F"},{"a":49.62,"l":2.93,"s":"F"},{"a":49.82,"l":2.73,"s":"F"},
{"a":1.05,"l":0.39,"s":"M","r":1},{"a":1.2,"l":0.46,"s":"M","r":1},{"a":1.4,"l":0.54,"s":"M","r":1},{"a":1.4,"l":0.6,"s":"F","r":1},{"a":1.8,"l":0.67,"s":"F","r":1},{"a":1.9,"l":0.74,"s":"F","r":1},{"a":2.26,"l":0.94,"s":"F","r":1},{"a":2.2,"l":0.74,"s":"F","r":1},{"a":2.45,"l":0.67,"s":"M","r":1},{"a":2.56,"l":0.74,"s":"M","r":1},
{"a":3.0,"l":1.03,"s":"F","r":1},{"a":3.1,"l":0.82,"s":"M","r":1},{"a":3.27,"l":0.69,"s":"M","r":1},{"a":3.46,"l":1.08,"s":"F","r":1},{"a":3.69,"l":1.18,"s":"F","r":1},{"a":3.76,"l":0.92,"s":"M","r":1},{"a":4.0,"l":1.05,"s":"M","r":1},{"a":4.7,"l":1.02,"s":"M","r":1},{"a":4.8,"l":1.31,"s":"F","r":1},{"a":4.97,"l":1.3,"s":"F","r":1},
{"a":5.2,"l":1.23,"s":"M","r":1},{"a":5.46,"l":1.39,"s":"F","r":1},{"a":5.76,"l":1.14,"s":"M","r":1},{"a":5.83,"l":1.47,"s":"F","r":1},{"a":6.0,"l":1.44,"s":"F","r":1},{"a":6.28,"l":1.36,"s":"M","r":1},{"a":6.47,"l":1.43,"s":"M","r":1},{"a":6.66,"l":1.57,"s":"F","r":1},{"a":6.7,"l":1.32,"s":"M","r":1},{"a":6.85,"l":1.5,"s":"M","r":1},
{"a":7.3,"l":1.5,"s":"M","r":1},{"a":7.5,"l":1.6,"s":"M","r":1},{"a":7.7,"l":1.7,"s":"F","r":1},{"a":8.35,"l":1.79,"s":"F","r":1},{"a":8.54,"l":1.68,"s":"M","r":1},{"a":8.65,"l":1.63,"s":"M","r":1},{"a":9.1,"l":1.77,"s":"M","r":1},{"a":9.6,"l":1.88,"s":"M","r":1},{"a":9.8,"l":1.93,"s":"F","r":1},{"a":10.0,"l":1.82,"s":"M","r":1},
{"a":10.35,"l":2.03,"s":"F","r":1},{"a":10.8,"l":2.05,"s":"F","r":1},{"a":10.8,"l":1.91,"s":"M","r":1},{"a":11.3,"l":1.99,"s":"M","r":1},{"a":11.8,"l":2.16,"s":"F","r":1},{"a":11.85,"l":2.11,"s":"M","r":1},{"a":12.5,"l":2.16,"s":"M","r":1},{"a":12.6,"l":2.27,"s":"F","r":1},{"a":12.6,"l":2.33,"s":"F","r":1},{"a":13.2,"l":2.23,"s":"M","r":1},
{"a":13.7,"l":2.27,"s":"M","r":1},{"a":13.8,"l":2.23,"s":"M","r":1},{"a":14.75,"l":2.39,"s":"M","r":1},{"a":14.9,"l":2.38,"s":"M","r":1},{"a":15.16,"l":2.44,"s":"M","r":1},{"a":15.3,"l":2.48,"s":"F","r":1},{"a":15.4,"l":2.35,"s":"M","r":1},{"a":15.6,"l":2.52,"s":"F","r":1},{"a":16.5,"l":2.45,"s":"M","r":1},{"a":16.8,"l":2.54,"s":"M","r":1},
{"a":16.9,"l":2.57,"s":"M","r":1},{"a":17.5,"l":2.63,"s":"F","r":1},{"a":17.7,"l":2.65,"s":"F","r":1},{"a":18.45,"l":2.72,"s":"F","r":1},{"a":18.8,"l":2.74,"s":"F","r":1},{"a":19.2,"l":2.68,"s":"M","r":1},{"a":20.0,"l":2.8,"s":"F","r":1},{"a":31.7,"l":2.97,"s":"M","r":1},
{"a":1.1,"l":0.42,"s":"M","r":1},{"a":1.25,"l":0.5,"s":"F","r":1},{"a":1.5,"l":0.58,"s":"F","r":1},{"a":1.6,"l":0.55,"s":"M","r":1},{"a":1.75,"l":0.62,"s":"M","r":1},{"a":2.0,"l":0.7,"s":"F","r":1},{"a":2.1,"l":0.66,"s":"M","r":1},{"a":2.35,"l":0.72,"s":"M","r":1},{"a":2.6,"l":0.79,"s":"F","r":1},{"a":2.8,"l":0.83,"s":"F","r":1},
{"a":2.9,"l":0.8,"s":"M","r":1},{"a":3.3,"l":0.95,"s":"F","r":1},{"a":3.5,"l":0.92,"s":"M","r":1},{"a":3.9,"l":1.08,"s":"F","r":1},{"a":4.2,"l":1.1,"s":"F","r":1},{"a":4.3,"l":1.05,"s":"M","r":1},{"a":4.5,"l":1.13,"s":"M","r":1},{"a":4.6,"l":1.18,"s":"F","r":1},{"a":5.0,"l":1.22,"s":"M","r":1},{"a":5.3,"l":1.3,"s":"F","r":1},
{"a":5.6,"l":1.33,"s":"M","r":1},{"a":5.9,"l":1.4,"s":"M","r":1},{"a":6.1,"l":1.47,"s":"F","r":1},{"a":6.3,"l":1.42,"s":"M","r":1},{"a":6.9,"l":1.56,"s":"F","r":1},{"a":7.1,"l":1.53,"s":"M","r":1},{"a":7.9,"l":1.68,"s":"M","r":1},{"a":8.1,"l":1.74,"s":"F","r":1},{"a":8.9,"l":1.8,"s":"M","r":1},{"a":9.3,"l":1.88,"s":"F","r":1},{"a":9.5,"l":1.84,"s":"M","r":1},
{"a":1.0,"l":0.38,"s":"M","r":1},{"a":1.08,"l":0.41,"s":"F","r":1},{"a":1.15,"l":0.44,"s":"M","r":1},{"a":1.3,"l":0.47,"s":"M","r":1},{"a":1.55,"l":0.6,"s":"F","r":1},{"a":1.7,"l":0.58,"s":"M","r":1},{"a":2.0,"l":0.64,"s":"M","r":1},{"a":2.3,"l":0.7,"s":"M","r":1},{"a":2.5,"l":0.75,"s":"F","r":1},{"a":2.7,"l":0.76,"s":"M","r":1},
{"a":3.05,"l":0.86,"s":"M","r":1},{"a":3.2,"l":0.9,"s":"F","r":1},{"a":3.4,"l":0.94,"s":"F","r":1},{"a":3.6,"l":0.97,"s":"M","r":1},{"a":3.85,"l":1.0,"s":"M","r":1},{"a":4.1,"l":1.06,"s":"M","r":1},{"a":4.4,"l":1.15,"s":"F","r":1},{"a":4.9,"l":1.2,"s":"M","r":1},{"a":5.1,"l":1.28,"s":"F","r":1},{"a":5.5,"l":1.35,"s":"F","r":1},
{"a":5.7,"l":1.37,"s":"M","r":1},{"a":6.2,"l":1.45,"s":"F","r":1},{"a":6.6,"l":1.48,"s":"M","r":1},{"a":7.2,"l":1.58,"s":"F","r":1},{"a":7.6,"l":1.62,"s":"M","r":1},{"a":8.2,"l":1.7,"s":"M","r":1},{"a":8.8,"l":1.76,"s":"M","r":1},{"a":9.2,"l":1.84,"s":"M","r":1},{"a":10.2,"l":1.9,"s":"M","r":1},{"a":10.6,"l":1.97,"s":"M","r":1},
{"a":11.1,"l":2.06,"s":"F","r":1},{"a":12.2,"l":2.14,"s":"M","r":1},{"a":12.4,"l":2.22,"s":"M","r":1}
],
"curve":[
{"a":1,"l":0.48},{"a":2,"l":0.695},{"a":3,"l":0.894},{"a":4,"l":1.08},{"a":5,"l":1.252},{"a":6,"l":1.413},{"a":7,"l":1.562},{"a":8,"l":1.701},{"a":9,"l":1.83},{"a":10,"l":1.95},{"a":12,"l":2.166},{"a":14,"l":2.352},{"a":16,"l":2.514},{"a":18,"l":2.653},{"a":20,"l":2.774},{"a":22,"l":2.879},{"a":25,"l":3.01},{"a":28,"l":3.115},{"a":31,"l":3.2},{"a":34,"l":3.269},{"a":37,"l":3.324},{"a":40,"l":3.368},{"a":43,"l":3.403},{"a":46,"l":3.432},{"a":50,"l":3.462}
]
},
"layer":[
{"data":{"name":"pts"},"mark":{"type":"circle","size":60,"opacity":1},
"encoding":{
"x":{"field":"a","type":"quantitative","title":"Age (years)","scale":{"domain":[-1.44,52.42],"nice":false,"zero":false},"axis":{"orient":"bottom","values":[0,10,20,30,40,50],"labelPadding":5,"domain":true,"domainColor":"#7f7f7f","domainWidth":2,"titleY":52,"titleBaseline":"alphabetic"}},
"y":{"field":"l","type":"quantitative","title":"Length (m)","scale":{"domain":[0.182,4.595],"nice":false,"zero":false},"axis":{"values":[1,2,3,4],"titleX":-38,"titleBaseline":"middle","titleFontSize":26}},
"color":{"field":"s","type":"nominal","scale":{"domain":["F","M"],"range":["#DF8C0B","#4EA4E2"]},
"legend":{"title":"sex","orient":"none","legendX":1673,"legendY":365,"titleFont":"Liberation Sans","titleFontSize":19,"titleFontWeight":"normal","titleColor":"black","labelFont":"Liberation Sans","labelFontSize":14,"labelColor":"#1a1a1a","symbolType":"circle","symbolSize":45,"symbolStrokeWidth":0,"symbolOffset":11,"labelOffset":17,"rowPadding":15,"titlePadding":14}}
}},
{"data":{"name":"pts"},"transform":[{"filter":"datum.r == 1"}],"mark":{"type":"point","shape":"circle","filled":false,"size":190,"stroke":"#FF0000","strokeWidth":2.7,"opacity":1},
"encoding":{
"x":{"field":"a","type":"quantitative","axis":null},
"y":{"field":"l","type":"quantitative","axis":null}
}},
{"data":{"name":"curve"},"mark":{"type":"line","color":"black","strokeWidth":2},
"encoding":{
"x":{"field":"a","type":"quantitative","axis":{"orient":"top","labels":false,"grid":false,"ticks":false,"title":null,"domain":true,"domainColor":"#7f7f7f","domainWidth":2}},
"y":{"field":"l","type":"quantitative","axis":null}
}}
]
}
